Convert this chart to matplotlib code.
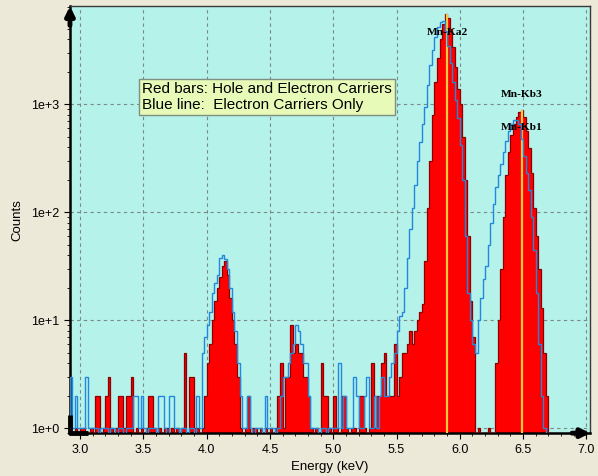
#!/usr/bin/env python3
"""Mn K-line spectrum: hole+electron carriers (red bars) vs electron carriers only (blue line)."""
import matplotlib
matplotlib.use("Agg")
import matplotlib.pyplot as plt
import numpy as np
from matplotlib.ticker import FixedLocator, FuncFormatter, MultipleLocator, LogLocator

# 0.02 keV channels starting at 2.92 keV, ten channels (0.2 keV) per row
E_START = 2.92
E_STEP = 0.02

red_counts = [
    0, 0, 1, 0, 1, 1, 0, 0, 1, 0,                      # 2.92
    2, 2, 0, 1, 2, 3, 1, 0, 1, 2,                      # 3.12
    2, 1, 2, 2, 3, 0, 1, 0, 1, 0,                      # 3.32
    1, 2, 2, 1, 0, 1, 0, 1, 1, 0,                      # 3.52
    1, 0, 1, 0, 1, 5, 0, 3, 3, 1,                      # 3.72
    1, 0, 1, 2, 4, 6, 10, 15, 20, 25,                  # 3.92
    32, 35, 26, 16, 10, 6, 3, 1, 0, 1,                 # 4.12
    2, 0, 1, 1, 0, 1, 0, 1, 0, 1,                      # 4.32
    0, 1, 2, 4, 1, 3, 3, 9, 5, 6,                      # 4.52
    5, 5, 3, 3, 2, 1, 0, 1, 0, 4,                      # 4.72
    2, 2, 1, 0, 2, 1, 0, 2, 2, 1,                      # 4.92
    0, 1, 1, 0, 2, 2, 1, 0, 1, 4,                      # 5.12
    1, 2, 2, 4, 5, 2, 2, 2, 6, 2,                      # 5.32
    3, 5, 5, 6, 8, 6, 8, 10, 12, 14,                   # 5.52
    35, 110, 300, 800, 1600, 2700, 4000, 5500, 6900, 6300,  # 5.72
    5000, 3400, 2200, 1400, 1000, 500, 200, 60, 15, 7,      # 5.92
    0, 1, 0, 0, 0, 1, 0, 0, 4, 10,                     # 6.12
    30, 90, 220, 360, 520, 650, 760, 840, 890, 760,    # 6.32
    560, 390, 230, 110, 60, 30, 13, 5, 2, 0,           # 6.52
    0, 0, 0, 0, 0, 0, 0, 0, 0, 0,                      # 6.72
    0, 0, 0, 0,                                        # 6.92
]

blue_counts = [
    3, 1, 2, 1, 1, 1, 3, 1, 1, 1,                      # 2.92
    1, 0, 1, 1, 1, 0, 1, 1, 0, 1,                      # 3.12
    1, 0, 1, 1, 1, 2, 2, 1, 2, 1,                      # 3.32
    0, 1, 1, 1, 0, 2, 2, 1, 0, 2,                      # 3.52
    2, 1, 1, 0, 1, 1, 0, 1, 1, 0,                      # 3.72
    2, 1, 5, 7, 9, 12, 18, 22, 26, 38,                 # 3.92
    40, 37, 30, 20, 12, 8, 4, 2, 1, 1,                 # 4.12
    2, 1, 0, 1, 1, 1, 0, 2, 1, 1,                      # 4.32
    1, 0, 1, 2, 3, 3, 4, 5, 6, 9,                      # 4.52
    8, 6, 4, 4, 2, 1, 1, 1, 0, 1,                      # 4.72
    1, 0, 1, 1, 1, 1, 4, 1, 2, 1,                      # 4.92
    1, 1, 3, 2, 1, 1, 2, 3, 1, 1,                      # 5.12
    2, 1, 2, 3, 2, 2, 3, 4, 5, 8,                      # 5.32
    11, 12, 20, 38, 70, 110, 180, 300, 450, 650,       # 5.52
    950, 1500, 2300, 3200, 4200, 5200, 5800, 5900, 4800, 3500,  # 5.72
    2400, 1600, 1100, 750, 420, 200, 60, 18, 10, 6,    # 5.92
    5, 10, 16, 24, 32, 50, 80, 120, 170, 220,          # 6.12
    280, 360, 460, 560, 660, 710, 720, 650, 480, 330,  # 6.32
    230, 160, 90, 45, 18, 6, 2, 1, 0, 0,               # 6.52
    0, 0, 0, 0, 0, 0, 0, 0, 0, 0,                      # 6.72
    0, 0, 0, 0,                                        # 6.92
]

line_names = ["Mn-Ka2", "Mn-Kb3", "Mn-Kb1"]
line_energies = [5.899, 6.490, 6.490]
marker_energies = [5.899, 6.490]
marker_heights = [6900, 890]

BG = "#ECE9D8"
PLOT_BG = "#B4F2EA"
FLOOR = 0.5  # empty channels drawn below the visible range


def main():
    red = np.asarray(red_counts, float)
    blue = np.asarray(blue_counts, float)
    edges = E_START + E_STEP * np.arange(len(red) + 1)

    fig = plt.figure(figsize=(5.98, 4.76), dpi=100, facecolor=BG)
    ax = fig.add_axes([0.117, 0.090, 0.870, 0.897])
    ax.set_facecolor(PLOT_BG)
    ax.set_yscale("log")
    ax.set_xlim(2.921, 7.03)
    ax.set_ylim(0.9, 8100)

    ax.grid(True, which="major", color="#7a8a88", linestyle=(0, (3, 3)), linewidth=0.8)
    ax.set_axisbelow(True)

    r = np.where(red > 0, red, FLOOR)
    b = np.where(blue > 0, blue, FLOOR)
    ax.stairs(r, edges, baseline=FLOOR, fill=True, color="#FF0000", zorder=2)
    ax.stairs(r, edges, baseline=FLOOR, color="#8B0000", linewidth=0.9, zorder=3)
    ax.vlines(marker_energies, FLOOR, marker_heights, color="#F5C842", linewidth=1.6, zorder=4)
    ax.stairs(b, edges, baseline=FLOOR, color="#2288DD", linewidth=1.0, zorder=5)

    lab_y = [4640, 1235, 610]
    for name, e, y in zip(line_names, line_energies, lab_y):
        ax.text(e, y, name, ha="center", va="center", fontsize=8.2, fontweight="bold",
                family="Liberation Serif", zorder=6)

    ax.text(0.138, 0.822, "Red bars: Hole and Electron Carriers\nBlue line:  Electron Carriers Only",
            transform=ax.transAxes, fontsize=11, family="Liberation Sans", va="top", ha="left",
            linespacing=1.2, zorder=7,
            bbox=dict(boxstyle="square,pad=0.2", facecolor="#E8FAB8", edgecolor="#7f8f80", linewidth=1))

    ax.xaxis.set_major_locator(MultipleLocator(0.5))
    ax.xaxis.set_minor_locator(MultipleLocator(0.1))
    ax.xaxis.set_major_formatter(FuncFormatter(lambda v, _: f"{v:.1f}"))
    ax.yaxis.set_major_locator(FixedLocator([1, 10, 100, 1000]))
    ax.yaxis.set_minor_locator(LogLocator(base=10, subs=np.arange(2, 10)))
    ax.yaxis.set_major_formatter(FuncFormatter(lambda v, _: f"1e+{int(round(np.log10(v)))}"))
    ax.tick_params(which="major", length=4, width=0.8, labelsize=9, colors="black")
    ax.tick_params(which="minor", length=2, width=0.6)
    for lab in ax.get_xticklabels() + ax.get_yticklabels():
        lab.set_family("Liberation Sans")

    ax.set_xlabel("Energy (keV)", fontsize=9.5, family="Liberation Sans", labelpad=4)
    ax.set_ylabel("Counts", fontsize=9.5, family="Liberation Sans", labelpad=6)

    for side in ("top", "right"):
        ax.spines[side].set_color("#3a3a3a")
        ax.spines[side].set_linewidth(1.0)
    for side in ("left", "bottom"):
        ax.spines[side].set_color("black")
        ax.spines[side].set_linewidth(1.8)

    # axis arrows and the heavy origin corner
    arrow = dict(arrowstyle="-|>,head_length=0.5,head_width=0.25", color="black", lw=3.5,
                 shrinkA=0, shrinkB=0)
    ax.annotate("", xy=(0, 1.0), xytext=(0, 0.955), xycoords="axes fraction", arrowprops=arrow,
                annotation_clip=False, zorder=8)
    ax.annotate("", xy=(1.0, 0), xytext=(0.965, 0), xycoords="axes fraction", arrowprops=arrow,
                annotation_clip=False, zorder=8)
    ax.plot([0, 0, 0.034], [0.042, 0, 0], transform=ax.transAxes, color="black", lw=3.5,
            clip_on=False, zorder=8, solid_capstyle="butt")

    fig.savefig("out.png", dpi=100, facecolor=BG)
    plt.close(fig)


if __name__ == "__main__":
    main()
